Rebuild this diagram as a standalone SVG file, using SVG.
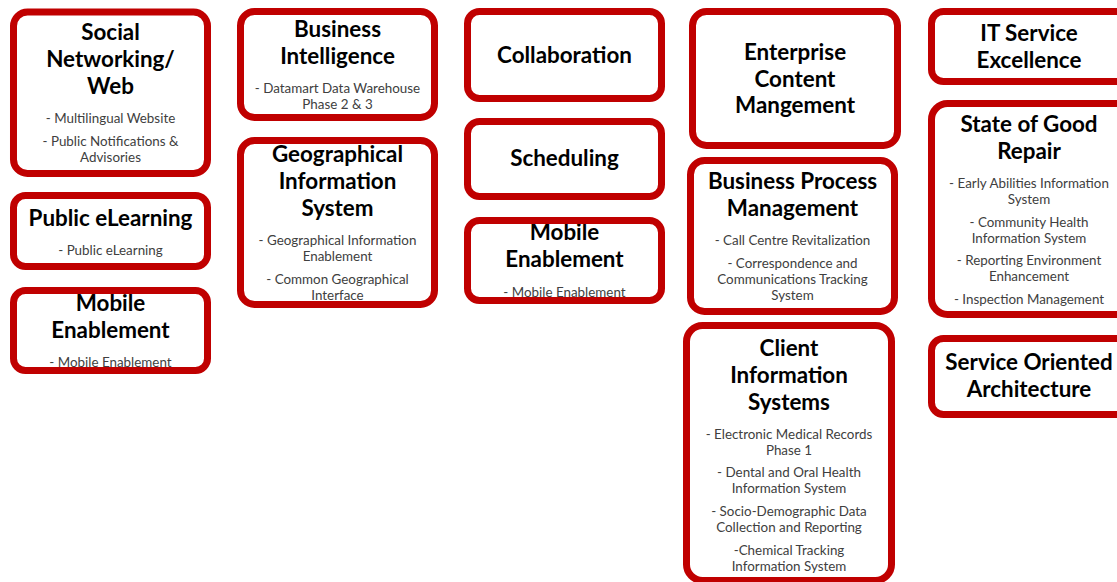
<svg xmlns="http://www.w3.org/2000/svg" width="1117" height="582" viewBox="0 0 1117 582">
<style>
.bg{fill:#fff}
.bd{fill:none;stroke:#C00000;stroke-width:7}
.t{font-family:Lato,"Liberation Sans",sans-serif;font-weight:bold;font-size:22.4px;fill:#000;text-anchor:middle}
.s{font-family:Lato,"Liberation Sans",sans-serif;font-size:13.4px;fill:#404040;text-anchor:middle}
</style>
<rect width="1117" height="582" fill="#fff"/>
<g id="social">
<rect class="bg" x="13.5" y="12" width="194" height="161.5" rx="14"/>
<text class="t" x="110.5" y="40">Social</text>
<text class="t" x="110.5" y="67">Networking/</text>
<text class="t" x="110.5" y="94">Web</text>
<text class="s" x="110.5" y="123">- Multilingual Website</text>
<text class="s" x="110.5" y="146">- Public Notifications &amp;</text>
<text class="s" x="110.5" y="162">Advisories</text>
<rect class="bd" x="13.5" y="12" width="194" height="161.5" rx="14"/>
</g>
<g id="elearning">
<rect class="bg" x="13.5" y="195.5" width="194" height="71" rx="12"/>
<text class="t" x="110.5" y="226">Public eLearning</text>
<text class="s" x="110.5" y="255">- Public eLearning</text>
<rect class="bd" x="13.5" y="195.5" width="194" height="71" rx="12"/>
</g>
<g id="mobile1">
<rect class="bg" x="13.5" y="290.5" width="194" height="80" rx="12"/>
<text class="t" x="110.5" y="311">Mobile</text>
<text class="t" x="110.5" y="338">Enablement</text>
<text class="s" x="110.5" y="367">- Mobile Enablement</text>
<rect class="bd" x="13.5" y="290.5" width="194" height="80" rx="12"/>
</g>
<g id="bi">
<rect class="bg" x="240.5" y="11.5" width="194" height="106" rx="14"/>
<text class="t" x="337.5" y="37">Business</text>
<text class="t" x="337.5" y="64">Intelligence</text>
<text class="s" x="337.5" y="93">- Datamart Data Warehouse</text>
<text class="s" x="337.5" y="109">Phase 2 &amp; 3</text>
<rect class="bd" x="240.5" y="11.5" width="194" height="106" rx="14"/>
</g>
<g id="gis">
<rect class="bg" x="240.5" y="140.5" width="194" height="164" rx="14"/>
<text class="t" x="337.5" y="162">Geographical</text>
<text class="t" x="337.5" y="189">Information</text>
<text class="t" x="337.5" y="216">System</text>
<text class="s" x="337.5" y="245">- Geographical Information</text>
<text class="s" x="337.5" y="261">Enablement</text>
<text class="s" x="337.5" y="284">- Common Geographical</text>
<text class="s" x="337.5" y="300">Interface</text>
<rect class="bd" x="240.5" y="140.5" width="194" height="164" rx="14"/>
</g>
<g id="collab">
<rect class="bg" x="467.5" y="11.5" width="194" height="87" rx="12"/>
<text class="t" x="564.5" y="63">Collaboration</text>
<rect class="bd" x="467.5" y="11.5" width="194" height="87" rx="12"/>
</g>
<g id="sched">
<rect class="bg" x="467.5" y="121.5" width="194" height="75" rx="12"/>
<text class="t" x="564.5" y="166">Scheduling</text>
<rect class="bd" x="467.5" y="121.5" width="194" height="75" rx="12"/>
</g>
<g id="mobile2">
<rect class="bg" x="467.5" y="220.5" width="194" height="80" rx="12"/>
<text class="t" x="564.5" y="240">Mobile</text>
<text class="t" x="564.5" y="267">Enablement</text>
<text class="s" x="564.5" y="297">- Mobile Enablement</text>
<rect class="bd" x="467.5" y="220.5" width="194" height="80" rx="12"/>
</g>
<g id="ecm">
<rect class="bg" x="692.5" y="11.5" width="205" height="134" rx="14"/>
<text class="t" x="795" y="60">Enterprise</text>
<text class="t" x="795" y="87">Content</text>
<text class="t" x="795" y="113">Mangement</text>
<rect class="bd" x="692.5" y="11.5" width="205" height="134" rx="14"/>
</g>
<g id="bpm">
<rect class="bg" x="690.5" y="160.5" width="204" height="151" rx="14"/>
<text class="t" x="792.5" y="189">Business Process</text>
<text class="t" x="792.5" y="216">Management</text>
<text class="s" x="792.5" y="245">- Call Centre Revitalization</text>
<text class="s" x="792.5" y="268">- Correspondence and</text>
<text class="s" x="792.5" y="284">Communications Tracking</text>
<text class="s" x="792.5" y="300">System</text>
<rect class="bd" x="690.5" y="160.5" width="204" height="151" rx="14"/>
</g>
<g id="cis">
<rect class="bg" x="686.5" y="325.5" width="205" height="255" rx="16"/>
<text class="t" x="789" y="356">Client</text>
<text class="t" x="789" y="383">Information</text>
<text class="t" x="789" y="410">Systems</text>
<text class="s" x="789" y="439">- Electronic Medical Records</text>
<text class="s" x="789" y="455">Phase 1</text>
<text class="s" x="789" y="477">- Dental and Oral Health</text>
<text class="s" x="789" y="493">Information System</text>
<text class="s" x="789" y="516">- Socio-Demographic Data</text>
<text class="s" x="789" y="532">Collection and Reporting</text>
<text class="s" x="789" y="555">-Chemical Tracking</text>
<text class="s" x="789" y="571">Information System</text>
<rect class="bd" x="686.5" y="325.5" width="205" height="255" rx="16"/>
</g>
<g id="itse">
<rect class="bg" x="931.5" y="11.5" width="200" height="70" rx="12"/>
<text class="t" x="1029" y="41">IT Service</text>
<text class="t" x="1029" y="68">Excellence</text>
<rect class="bd" x="931.5" y="11.5" width="200" height="70" rx="12"/>
</g>
<g id="sgr">
<rect class="bg" x="931.5" y="103.5" width="200" height="211" rx="16"/>
<text class="t" x="1029" y="132">State of Good</text>
<text class="t" x="1029" y="159">Repair</text>
<text class="s" x="1029" y="188">- Early Abilities Information</text>
<text class="s" x="1029" y="204">System</text>
<text class="s" x="1029" y="227">- Community Health</text>
<text class="s" x="1029" y="243">Information System</text>
<text class="s" x="1029" y="265">- Reporting Environment</text>
<text class="s" x="1029" y="281">Enhancement</text>
<text class="s" x="1029" y="304">- Inspection Management</text>
<rect class="bd" x="931.5" y="103.5" width="200" height="211" rx="16"/>
</g>
<g id="soa">
<rect class="bg" x="931.5" y="338.5" width="200" height="76" rx="12"/>
<text class="t" x="1029" y="370">Service Oriented</text>
<text class="t" x="1029" y="397">Architecture</text>
<rect class="bd" x="931.5" y="338.5" width="200" height="76" rx="12"/>
</g>
<g id="connectors"></g>
</svg>
